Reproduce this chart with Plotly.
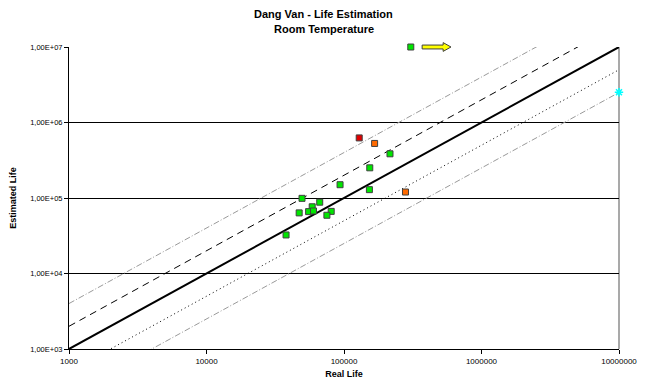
import numpy as np
import plotly.graph_objects as go

# ---- data ----
green_x = [49500, 66600, 58700, 55300, 60000, 47200, 80700, 75100, 37900, 93600, 153000, 154000, 216000, 306000]
green_y = [99000, 88000, 76500, 66000, 67300, 63500, 66500, 59100, 32400, 150000, 129000, 251000, 385000, 10000000]
red_x = [129000]
red_y = [625000]
orange_x = [167000, 280000]
orange_y = [528000, 120000]
cyan_x = [10000000]
cyan_y = [2520000]
factors = [4, 2, 1, 0.5, 0.25]
x_ticks = [1000, 10000, 100000, 1000000, 10000000]
x_ticklabels = ["1000", "10000", "100000", "1000000", "10000000"]
y_ticks = [1000, 10000, 100000, 1000000, 10000000]
y_ticklabels = ["1,00E+03", "1,00E+04", "1,00E+05", "1,00E+06", "1,00E+07"]
arrow_from = 370000
arrow_to = 600000
arrow_y = 10000000
title_lines = ["Dang Van - Life Estimation", "Room Temperature"]

FONT = "Liberation Sans, Arial, sans-serif"
X_RANGE = [3, 7]
Y_RANGE = [3, 7]
ML, MR, MT, MB = 68, 21, 47, 33
W, H = 649, 390
PW, PH = W - ML - MR, H - MT - MB

fig = go.Figure()

line_styles = {
    4: dict(color="#9a9a9a", width=1, dash="6px,2px,1px,2px"),
    2: dict(color="black", width=1, dash="7px,5px"),
    1: dict(color="black", width=2),
    0.5: dict(color="black", width=1, dash="1px,3px"),
    0.25: dict(color="#9a9a9a", width=1, dash="6px,2px,1px,2px"),
}
xl = np.array([10 ** X_RANGE[0], 10 ** X_RANGE[1]], dtype=float)
for f in factors:
    fig.add_trace(go.Scatter(x=xl, y=f * xl, mode="lines", line=line_styles[f],
                             hoverinfo="skip", showlegend=False))

mk_line = dict(color="#404040", width=1)
fig.add_trace(go.Scatter(x=green_x, y=green_y, mode="markers", cliponaxis=False,
                         marker=dict(symbol="square", size=6, color="#00e600", line=mk_line),
                         showlegend=False))
fig.add_trace(go.Scatter(x=red_x, y=red_y, mode="markers", cliponaxis=False,
                         marker=dict(symbol="square", size=6, color="#e00000", line=mk_line),
                         showlegend=False))
fig.add_trace(go.Scatter(x=orange_x, y=orange_y, mode="markers", cliponaxis=False,
                         marker=dict(symbol="square", size=6, color="#ff6a00", line=mk_line),
                         showlegend=False))
fig.add_trace(go.Scatter(x=cyan_x, y=cyan_y, mode="markers", cliponaxis=False,
                         marker=dict(symbol="asterisk-open", size=7, color="#00ffff",
                                     line=dict(color="#00e8ff", width=1.5)),
                         showlegend=False))

# yellow block arrow as a paper-referenced path (so it is not clipped at the top edge)
def px_(v):
    return (np.log10(v) - X_RANGE[0]) / (X_RANGE[1] - X_RANGE[0])

def py_(v):
    return (np.log10(v) - Y_RANGE[0]) / (Y_RANGE[1] - Y_RANGE[0])

x0, x1, yc = px_(arrow_from), px_(arrow_to), py_(arrow_y)
head = 8 / PW
sh = 2 / PH
hh = 4.5 / PH
pts = [(x0, yc + sh), (x1 - head, yc + sh), (x1 - head, yc + hh), (x1, yc),
       (x1 - head, yc - hh), (x1 - head, yc - sh), (x0, yc - sh)]
path = "M " + " L ".join(f"{a:.5f},{b:.5f}" for a, b in pts) + " Z"
fig.add_shape(type="path", xref="paper", yref="paper", path=path,
              fillcolor="#ffff00", line=dict(color="#404040", width=1), layer="above")

# right border (grey)
fig.add_shape(type="line", xref="paper", yref="paper", x0=1, x1=1, y0=0, y1=1,
              line=dict(color="#8c8c8c", width=1.5), layer="below")

# title (two bold lines, centred on the chart area)
title_cx = (W / 2 + 3 - ML) / PW
for txt, ypx in zip(title_lines, [13, 29]):
    fig.add_annotation(text=f"<b>{txt}</b>", xref="paper", yref="paper",
                       x=title_cx, y=(H - MB - ypx) / PH, xanchor="center", yanchor="middle",
                       showarrow=False, font=dict(size=11, family=FONT, color="black"))

fig.update_layout(
    width=W, height=H,
    margin=dict(l=ML, r=MR, t=MT, b=MB),
    paper_bgcolor="white", plot_bgcolor="white",
    font=dict(family=FONT, size=8, color="black"),
    showlegend=False,
)
fig.update_xaxes(type="log", range=X_RANGE, tickvals=x_ticks, ticktext=x_ticklabels,
                 showgrid=False, zeroline=False, showline=True, linecolor="black", linewidth=1,
                 ticks="outside", ticklen=4, tickcolor="black", tickfont=dict(size=8),
                 title=dict(text="<b>Real Life</b>", font=dict(size=9, family=FONT), standoff=6))
fig.update_yaxes(type="log", range=Y_RANGE, tickvals=y_ticks, ticktext=y_ticklabels,
                 showgrid=True, gridcolor="black", gridwidth=1, zeroline=False,
                 showline=True, linecolor="black", linewidth=1,
                 ticks="outside", ticklen=4, tickcolor="black", tickfont=dict(size=7.5),
                 title=dict(text="<b>Estimated Life</b>", font=dict(size=9, family=FONT), standoff=12))

fig.write_html("out.html")
